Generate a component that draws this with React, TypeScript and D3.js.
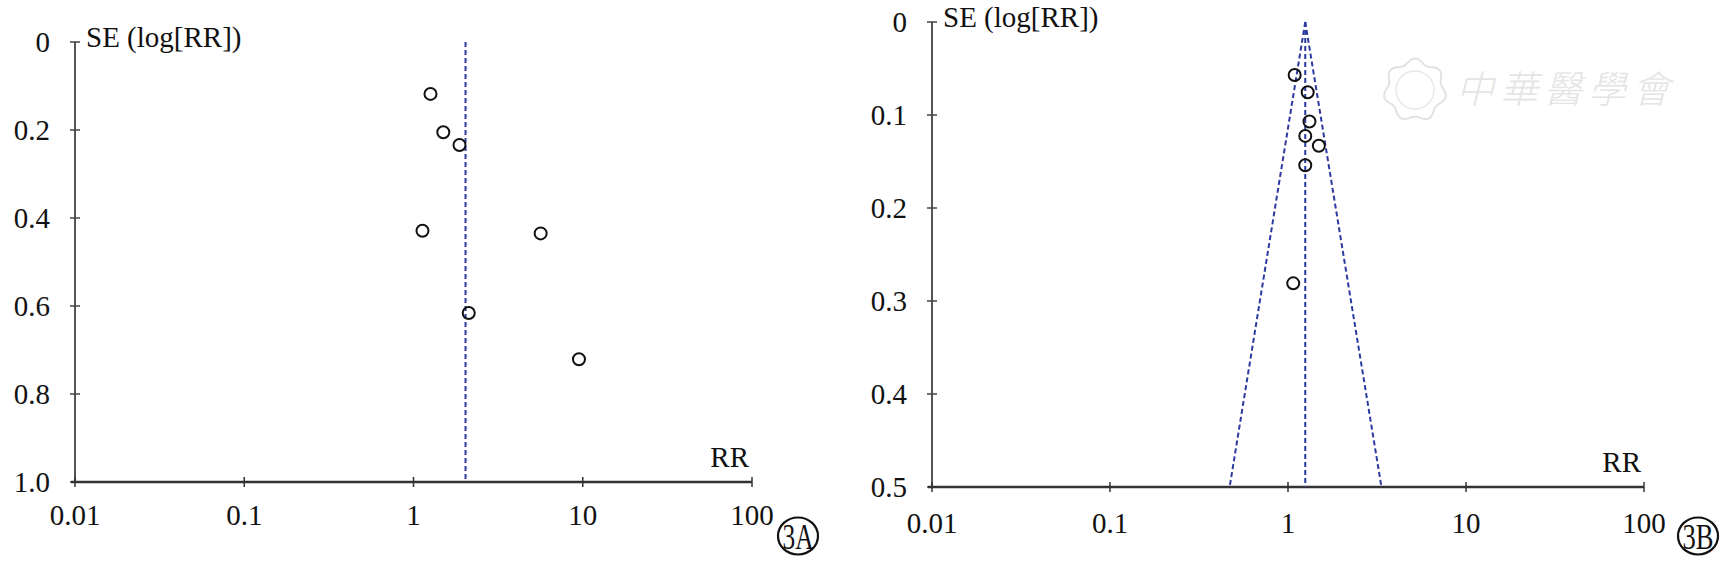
import * as d3 from 'd3';

// shared x axis (RR, log scale)
const rrTicks = [0.01, 0.1, 1, 10, 100];
const rrTickLabels = ['0.01', '0.1', '1', '10', '100'];

// panel 3A
const seTicksA = [0, 0.2, 0.4, 0.6, 0.8, 1.0];
const seTickLabelsA = ['0', '0.2', '0.4', '0.6', '0.8', '1.0'];
const studyRrA = [1.26, 1.5, 1.87, 1.13, 5.64, 2.12, 9.5];
const studySeA = [0.118, 0.205, 0.234, 0.429, 0.435, 0.616, 0.721];
const pooledRrA = 2.03;

// panel 3B
const seTicksB = [0, 0.1, 0.2, 0.3, 0.4, 0.5];
const seTickLabelsB = ['0', '0.1', '0.2', '0.3', '0.4', '0.5'];
const studyRrB = [1.09, 1.29, 1.32, 1.25, 1.49, 1.25, 1.07];
const studySeB = [0.057, 0.0755, 0.107, 0.1225, 0.133, 0.154, 0.281];
const pooledRrB = 1.25;
const funnelBaseB = [0.47, 3.35]; // RR of the 95% limits at the bottom of the funnel

const FONT = 'Liberation Serif';
const BLUE = '#2a3a9e';

interface PanelProps {
  left: number;
  top: number;
  width: number;
  height: number;
  seTicks: number[];
  seLabels: string[];
  rr: number[];
  se: number[];
  pooled: number;
  funnel?: number[];
  tag: string;
  tagX: number;
  labelDy: number;
}

function Panel(p: PanelProps) {
  const seMax = p.seTicks[p.seTicks.length - 1];
  const x = d3.scaleLog().domain([0.01, 100]).range([p.left, p.left + p.width]);
  const y = d3.scaleLinear().domain([0, seMax]).range([p.top, p.top + p.height]);
  const yBottom = y(seMax);

  const line = d3
    .line<[number, number]>()
    .x((d) => x(d[0]))
    .y((d) => y(d[1]));

  const txt = { fontFamily: FONT, fontSize: '29px' };

  return (
    <g fill="#111">
      {/* y axis */}
      <line x1={p.left} x2={p.left} y1={y(0)} y2={yBottom} stroke="#555" strokeWidth={2} />
      {p.seTicks.map((t, i) => (
        <g key={'y' + i}>
          <line x1={p.left - 5} x2={p.left + 5} y1={y(t)} y2={y(t)} stroke="#444" strokeWidth={1.5} />
          <text x={p.left - 25} y={y(t)} dy="0.33em" textAnchor="end" style={txt}>
            {p.seLabels[i]}
          </text>
        </g>
      ))}
      <text x={p.left + 11} y={y(0) + 5} style={txt}>
        SE (log[RR])
      </text>

      {/* x axis */}
      <line x1={p.left - 4} x2={x(100)} y1={yBottom} y2={yBottom} stroke="#333" strokeWidth={2.5} />
      {rrTicks.map((t, i) => (
        <g key={'x' + i}>
          <line x1={x(t)} x2={x(t)} y1={yBottom - 5} y2={yBottom + 5} stroke="#333" strokeWidth={1.5} />
          <text x={x(t)} y={yBottom + p.labelDy} textAnchor="middle" style={txt}>
            {rrTickLabels[i]}
          </text>
        </g>
      ))}
      <text x={x(100) - 3} y={yBottom - 15} textAnchor="end" style={txt}>
        RR
      </text>

      {/* pooled estimate and funnel */}
      <path
        d={line([[p.pooled, 0], [p.pooled, seMax]]) ?? ''}
        stroke={BLUE}
        strokeWidth={2}
        strokeDasharray="5 3"
        fill="none"
      />
      {p.funnel &&
        p.funnel.map((f, i) => (
          <path
            key={'f' + i}
            d={line([[p.pooled, 0], [f, seMax]]) ?? ''}
            stroke={BLUE}
            strokeWidth={2}
            strokeDasharray="5 3"
            fill="none"
          />
        ))}

      {/* studies */}
      {p.rr.map((r, i) => (
        <circle key={'s' + i} cx={x(r)} cy={y(p.se[i])} r={6} fill="none" stroke="#111" strokeWidth={2} />
      ))}

      {/* panel tag */}
      <ellipse cx={p.tagX} cy={536} rx={20} ry={18.5} fill="none" stroke="#111" strokeWidth={2.2} />
      <text
        x={p.tagX}
        y={549}
        textAnchor="middle"
        style={{ fontFamily: FONT, fontSize: '36px' }}
        textLength={31}
        lengthAdjust="spacingAndGlyphs"
      >
        {p.tag}
      </text>
    </g>
  );
}

function Watermark() {
  const petals = d3.range(0, 361, 3).map((a) => {
    const rad = (a * Math.PI) / 180;
    const r = 29 + 2.5 * Math.cos(rad * 7);
    return [1415 + r * Math.sin(rad), 90 - r * Math.cos(rad)] as [number, number];
  });
  return (
    <g>
      <path d={d3.line()(petals) ?? ''} fill="none" stroke="#e2e2e2" strokeWidth={2} />
      <circle cx={1415} cy={90} r={19} fill="none" stroke="#e8e8e8" strokeWidth={1.5} />
      <text
        x={1566}
        y={103}
        textAnchor="middle"
        fill="#e4e4e4"
        style={{ fontFamily: 'Noto Sans CJK SC', fontSize: '38px', fontWeight: 300, fontStyle: 'italic' }}
        letterSpacing={6}
      >
        中華醫學會
      </text>
    </g>
  );
}

export default function App() {
  return (
    <svg
      width={1724}
      height={561}
      style={{ position: 'absolute', left: 0, top: 0, background: '#fff' }}
    >
      <Panel
        left={75}
        top={42}
        width={677}
        height={440}
        seTicks={seTicksA}
        seLabels={seTickLabelsA}
        rr={studyRrA}
        se={studySeA}
        pooled={pooledRrA}
        tag="3A"
        tagX={798}
        labelDy={43}
      />
      <Watermark />
      <Panel
        left={932}
        top={22}
        width={712}
        height={465}
        seTicks={seTicksB}
        seLabels={seTickLabelsB}
        rr={studyRrB}
        se={studySeB}
        pooled={pooledRrB}
        funnel={funnelBaseB}
        tag="3B"
        tagX={1698}
        labelDy={46}
      />
    </svg>
  );
}
